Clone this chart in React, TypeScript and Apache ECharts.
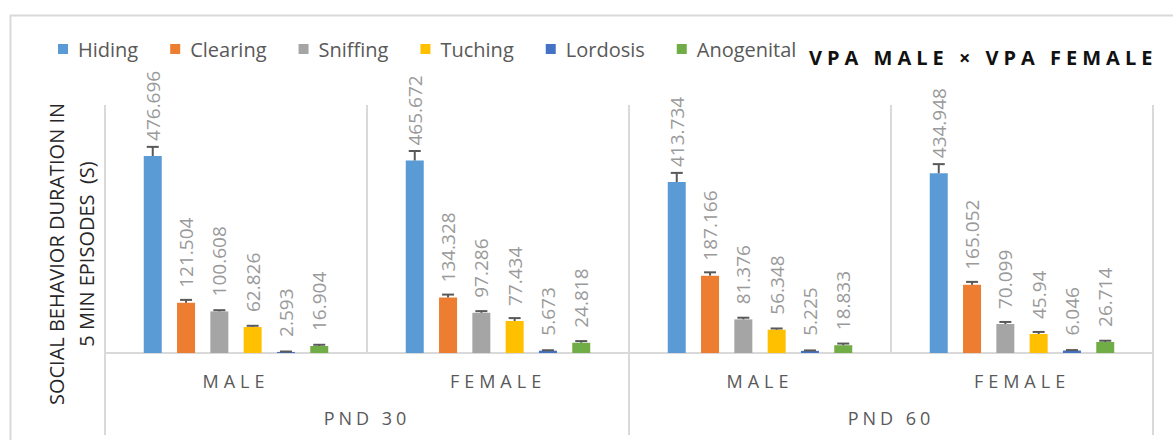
import React, { useEffect, useRef } from "react";
import * as echarts from "echarts";

const categories = ["MALE", "FEMALE", "MALE", "FEMALE"];
const groups = ["PND 30", "PND 60"];
const seriesNames = ["Hiding", "Clearing", "Sniffing", "Tuching", "Lordosis", "Anogenital"];
const colors = ["#5B9BD5", "#ED7D31", "#A5A5A5", "#FFC000", "#4472C4", "#70AD47"];

const hiding = [476.696, 465.672, 413.734, 434.948];
const clearing = [121.504, 134.328, 187.166, 165.052];
const sniffing = [100.608, 97.286, 81.376, 70.099];
const tuching = [62.826, 77.434, 56.348, 45.94];
const lordosis = [2.593, 5.673, 5.225, 6.046];
const anogenital = [16.904, 24.818, 18.833, 26.714];

const hidingErr = [22, 23, 22, 22];
const clearingErr = [7, 7, 8, 7];
const sniffingErr = [3, 4, 4, 5];
const tuchingErr = [3, 7, 3, 5];
const lordosisErr = [1, 1, 1, 1];
const anogenitalErr = [3, 4, 4, 3];

const values = [hiding, clearing, sniffing, tuching, lordosis, anogenital];
const errors = [hidingErr, clearingErr, sniffingErr, tuchingErr, lordosisErr, anogenitalErr];

const titleText = "VPA MALE × VPA FEMALE";
const yTitle = "SOCIAL BEHAVIOR DURATION IN\n5 MIN EPISODES  (S)";

const FONT = "Open Sans";
const BAR_W = 18;
const BAR_GAP = 0.85;

const spacing: Record<string, string> = {
  MALE: "5px",
  FEMALE: "5px",
  "PND 30": "4px",
  "PND 60": "4px",
  [titleText]: "5px",
};

export default function App() {
  const ref = useRef<HTMLDivElement>(null);
  useEffect(() => {
    if (!ref.current) return;
    const chart = echarts.init(ref.current, undefined, { renderer: "svg" });

    const errData: number[][] = [];
    values.forEach((arr, si) => {
      arr.forEach((v, ci) => errData.push([ci, si, v, errors[si][ci]]));
    });

    const barSeries = seriesNames.map((name, si) => ({
      name,
      type: "bar",
      xAxisIndex: 0,
      yAxisIndex: 0,
      data: values[si],
      barWidth: BAR_W,
      barGap: BAR_GAP * 100 + "%",
      itemStyle: { color: colors[si] },
      label: {
        show: true,
        position: "top",
        distance: 15,
        rotate: 90,
        align: "left",
        verticalAlign: "middle",
        color: "#9a9a9a",
        fontSize: 19,
        fontFamily: FONT,
      },
    }));

    const option: any = {
      animation: false,
      grid: { left: 105, right: 20, top: 105, bottom: 87, containLabel: false },
      legend: {
        data: seriesNames,
        left: 53,
        top: 34,
        itemWidth: 10,
        itemHeight: 10,
        itemGap: 32,
        icon: "rect",
        textStyle: { color: "#595959", fontSize: 20, fontFamily: FONT, padding: [0, 0, 0, 5] },
      },
      graphic: [
        {
          type: "rect",
          left: 8,
          top: 13,
          shape: { width: 1300, height: 600 },
          style: { fill: "none", stroke: "#d9d9d9", lineWidth: 2 },
          silent: true,
        },
        {
          type: "text",
          x: 809,
          y: 57,
          style: {
            text: titleText,
            fill: "#111111",
            fontSize: 20,
            fontWeight: "bold",
            fontFamily: FONT,
            align: "left",
            verticalAlign: "middle",
          },
        },
        {
          type: "text",
          x: 71,
          y: 254,
          rotation: Math.PI / 2,
          style: {
            text: yTitle,
            fill: "#262626",
            fontSize: 20,
            fontFamily: FONT,
            align: "center",
            verticalAlign: "middle",
            lineHeight: 30,
          },
        },
      ],
      xAxis: [
        {
          type: "category",
          data: categories,
          position: "bottom",
          axisLine: { show: true, lineStyle: { color: "#d9d9d9", width: 2 } },
          axisTick: { show: false },
          splitLine: { show: true, interval: 0, lineStyle: { color: "#d9d9d9", width: 2 } },
          axisLabel: { interval: 0, margin: 18, color: "#595959", fontSize: 18, fontFamily: FONT, lineHeight: 20 },
        },
        {
          type: "category",
          data: groups,
          position: "bottom",
          axisLine: { show: false },
          axisTick: { show: true, length: 82, interval: 0, lineStyle: { color: "#d9d9d9", width: 2 } },
          splitLine: { show: false },
          axisLabel: { interval: 0, margin: 55, color: "#595959", fontSize: 18, fontFamily: FONT, lineHeight: 20 },
        },
      ],
      yAxis: { type: "value", min: 0, max: 600, show: false },
      series: [
        ...barSeries,
        {
          type: "custom",
          name: "errors",
          xAxisIndex: 0,
          yAxisIndex: 0,
          z: 5,
          silent: true,
          encode: { x: 0, y: 2 },
          data: errData,
          renderItem: (params: any, api: any) => {
            const ci = api.value(0);
            const si = api.value(1);
            const v = api.value(2);
            const e = api.value(3);
            const base = api.coord([ci, v]);
            const top = api.coord([ci, v + e]);
            const step = BAR_W * (1 + BAR_GAP);
            const x = base[0] + (si - (seriesNames.length - 1) / 2) * step;
            const st = { stroke: "#595959", lineWidth: 2 };
            return {
              type: "group",
              children: [
                { type: "line", shape: { x1: x, y1: base[1], x2: x, y2: top[1] }, style: st },
                { type: "line", shape: { x1: x - 6, y1: top[1], x2: x + 6, y2: top[1] }, style: st },
              ],
            };
          },
        },
      ],
    };

    chart.setOption(option);
    const applySpacing = () => {
      const root = ref.current;
      if (!root) return;
      root.querySelectorAll("text").forEach((t) => {
        const key = (t.textContent || "").trim();
        const s = spacing[key];
        if (s) (t as SVGTextElement).style.letterSpacing = s;
      });
    };
    applySpacing();
    chart.on("finished", applySpacing);
    const timer = setTimeout(applySpacing, 50);
    return () => {
      clearTimeout(timer);
      chart.dispose();
    };
  }, []);

  return (
    <div
      ref={ref}
      style={{ position: "fixed", left: 0, top: 0, width: 1173, height: 440, background: "#ffffff" }}
    />
  );
}
